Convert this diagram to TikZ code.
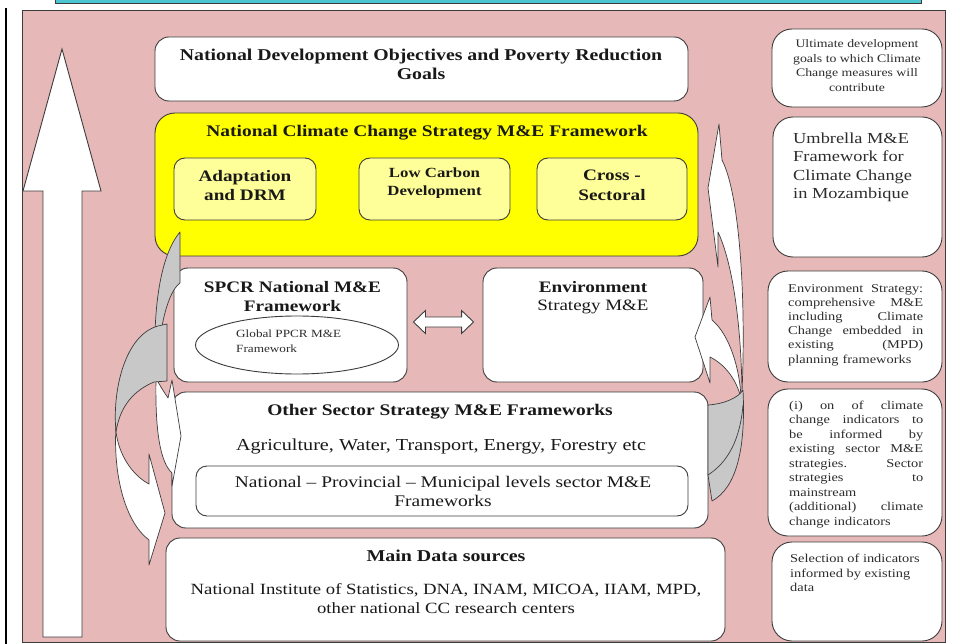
\documentclass[tikz,border=0pt]{standalone}
\usepackage{fontspec}
\setmainfont{Liberation Serif}[FakeStretch=1.2]
\usetikzlibrary{calc,shapes.geometric}
\definecolor{pinkbg}{RGB}{230,184,183}
\definecolor{ylw}{RGB}{255,255,0}
\definecolor{lylw}{RGB}{255,255,153}
\definecolor{edge}{RGB}{60,60,60}
\definecolor{arrgray}{RGB}{200,200,200}
\definecolor{cyanstrip}{RGB}{75,198,208}
\definecolor{txt}{RGB}{25,25,25}
\definecolor{smalltxt}{RGB}{45,45,45}
\newcommand\fs[2]{\fontsize{#1}{#2}\selectfont}
\newcommand\jline[2][135pt]{\makebox[#1][l]{#2}}
\begin{document}
\begin{tikzpicture}[x=1pt,y=-1pt,
  box/.style={draw=edge, line width=0.9pt, fill=white, rounded corners=14pt, inner sep=0pt},
  rbox/.style={box, rounded corners=20pt},
  lbl/.style={inner sep=0pt, align=center, text=txt},
  sml/.style={inner sep=0pt, text=smalltxt},
  ribbon/.style={draw=edge, line width=0.7pt, line join=round},
]
\useasboundingbox (0,0) rectangle (955,644);
% frame
\draw[line width=1.6pt] (6,8) -- (6,644);
\draw[edge, line width=0.8pt, fill=cyanstrip] (55,-5) rectangle (921,3);
\draw[edge, line width=0.9pt, fill=pinkbg] (22,10) rectangle (945,642);
% big up arrow
\draw[edge, fill=white, line width=0.9pt] (62,49) -- (101,191) -- (82,191) -- (82,637) -- (43,637) -- (43,191) -- (23,191) -- cycle;

% central boxes
\node[box, minimum width=533pt, minimum height=64pt] (ndo) at (421.5,69) {};
\node[lbl, font=\bfseries\fs{16.5}{18.5}] (ndotxt) at (421,64.5) {National Development Objectives and Poverty Reduction\\Goals};

\node[box, fill=ylw, rounded corners=20pt, minimum width=543pt, minimum height=143pt] (nccs) at (426.5,184.5) {};
\node[lbl, font=\bfseries\fs{16.2}{18}] (nccstxt) at (427,133) {National Climate Change Strategy M\&E Framework};
\node[box, fill=lylw, rounded corners=11pt, minimum width=142pt, minimum height=62pt] (adapt) at (245,189) {};
\node[box, fill=lylw, rounded corners=11pt, minimum width=151pt, minimum height=62pt] (lowc) at (434.5,189) {};
\node[box, fill=lylw, rounded corners=11pt, minimum width=150pt, minimum height=62pt] (cross) at (612,189) {};
\node[lbl, font=\bfseries\fs{16}{19.5}] (adtxt) at (245,185.5) {Adaptation\\and DRM};
\node[lbl, font=\bfseries\fs{14}{18}] (lctxt) at (434.5,183.5) {Low Carbon\\Development};
\node[lbl, font=\bfseries\fs{16}{19.5}] (crtxt) at (612,185.5) {Cross -\\Sectoral};

\node[box, minimum width=233pt, minimum height=114pt] (spcr) at (290.5,325) {};
\node[lbl, font=\bfseries\fs{16}{19}] (spcrtxt) at (292.5,296.5) {SPCR National M\&E\\Framework};
\node[draw=edge, line width=0.9pt, ellipse, fill=white, minimum width=203pt, minimum height=58pt, inner sep=0pt] (glob) at (297,345) {};
\node[sml, align=left, anchor=west, font=\fs{11}{15}] (globtxt) at (236,341.5) {Global PPCR M\&E\\Framework};

\node[box, minimum width=220pt, minimum height=114pt] (env) at (593,325) {};
\node[lbl, font=\bfseries\fs{16}{19}] (envtxt) at (593,287) {Environment};
\node[lbl, font=\fs{15.8}{19}] (envtxt2) at (593,307) {Strategy M\&E};

\coordinate (dal) at ($(spcr.east)+(6,-3)$);
\coordinate (dar) at ($(env.west)+(-9,-3)$);
\draw[edge, fill=white, line width=0.9pt] (dal) -- ++(12,-11.5) -- ++(0,6.5) -- ($(dar)+(-12,-5)$) -- ++(0,-6.5) -- (dar) -- ++(-12,11.5) -- ++(0,-6.5) -- ($(dal)+(12,5)$) -- ++(0,6.5) -- cycle;

\node[box, minimum width=536pt, minimum height=136pt] (other) at (440,460) {};
\node[lbl, font=\bfseries\fs{16.2}{19}] (othtxt) at (440,412) {Other Sector Strategy M\&E Frameworks};
\node[lbl, font=\fs{16.8}{19}] (agtxt) at (441,446) {Agriculture, Water, Transport, Energy, Forestry etc};
\node[box, rounded corners=11pt, minimum width=492pt, minimum height=50pt] (inner) at (442,491) {};
\node[lbl, font=\fs{16.2}{19}] (inntxt) at (443,491.5) {National – Provincial – Municipal levels sector M\&E\\Frameworks};

\node[box, minimum width=559pt, minimum height=103pt] (main) at (445.5,589.5) {};
\node[lbl, font=\bfseries\fs{16.6}{19}] (mdtxt) at (446,556) {Main Data sources};
\node[lbl, font=\fs{15.6}{19}] (mdtxt2) at (446,598.5) {National Institute of Statistics, DNA, INAM, MICOA, IIAM, MPD,\\other national CC research centers};

% right column
\node[rbox, minimum width=170pt, minimum height=78pt] (r1) at (857,68) {};
\node[sml, align=center, font=\fs{11.5}{14.5}] (r1t) at (857,65.5) {Ultimate development\\goals to which Climate\\Change measures will\\contribute};
\node[rbox, minimum width=169pt, minimum height=140pt] (r2) at (857.5,187) {};
\node[sml, align=left, anchor=west, font=\fs{15.3}{18.5}] (r2t) at (793,167.5) {Umbrella M\&E\\Framework for\\Climate Change\\in Mozambique};
\node[rbox, minimum width=174pt, minimum height=111pt] (r3) at (855,326.5) {};
\node[sml, align=left, anchor=west, text width=135pt, font=\fs{12}{14.2}] (r3t) at (788,325) {\jline{Environment\hfill Strategy:}\\\jline{comprehensive\hfill M\&E}\\\jline{including\hfill Climate}\\\jline{Change\hfill embedded\hfill in}\\\jline{existing\hfill (MPD)}\\planning frameworks};
\node[rbox, minimum width=174pt, minimum height=147pt] (r4) at (855,462.5) {};
\node[sml, align=left, anchor=west, text width=134pt, font=\fs{12}{14.5}] (r4t) at (789,464.5) {\jline[134pt]{(i)\hfill on\hfill of\hfill climate}\\\jline[134pt]{change\hfill indicators\hfill to}\\\jline[134pt]{be\hfill informed\hfill by}\\\jline[134pt]{existing\hfill sector\hfill M\&E}\\\jline[134pt]{strategies.\hfill Sector}\\\jline[134pt]{strategies\hfill to}\\mainstream\\\jline[134pt]{(additional)\hfill climate}\\change indicators};
\node[rbox, minimum width=170pt, minimum height=99pt] (r5) at (857,591.5) {};
\node[sml, align=left, anchor=west, font=\fs{12}{14.5}] (r5t) at (790,573) {Selection of indicators\\informed by existing\\data};

% right curved arrows
\draw[ribbon, fill=white] (722,160) -- (719,124) -- (708,188) -- (718,267) -- (718,232) .. controls (732,262) and (741,320) .. (742,392) .. controls (746,300) and (740,195) .. (722,160) -- cycle;
\draw[ribbon, fill=white] (712,320) -- (710,297) -- (695,337) -- (710,383) -- (710,357) .. controls (724,364) and (736,378) .. (741,398) .. controls (740,370) and (730,335) .. (712,320) -- cycle;
\draw[ribbon, fill=arrgray] (708,405) -- (708,475) -- (712,501) .. controls (736,488) and (746,450) .. (743,390) .. controls (738,398) and (724,404) .. (708,405) -- cycle;
\draw[ribbon] (708,475) .. controls (728,462) and (740,440) .. (743,405);

% left curved arrows
\draw[ribbon, fill=arrgray] (180,232) -- (180,283) .. controls (168,292) and (159,325) .. (156,380) .. controls (152,320) and (158,258) .. (180,232) -- cycle;
\draw[ribbon, fill=white] (156,378) .. controls (160,386) and (164,392) .. (168,398) -- (172,380) -- (181,436) -- (172,486) -- (172,473) .. controls (160,462) and (155,430) .. (156,378) -- cycle;
\draw[ribbon, fill=arrgray] (167,324) -- (167,381) -- (154,382) .. controls (135,390) and (120,405) .. (116,432) .. controls (112,390) and (125,335) .. (158,326) -- cycle;
\draw[ribbon, fill=white] (116,426) .. controls (113,475) and (125,522) .. (149,540) -- (149,565) -- (165,513) -- (149,454) -- (149,484) .. controls (132,475) and (119,455) .. (116,432) -- cycle;
\end{tikzpicture}
\end{document}
